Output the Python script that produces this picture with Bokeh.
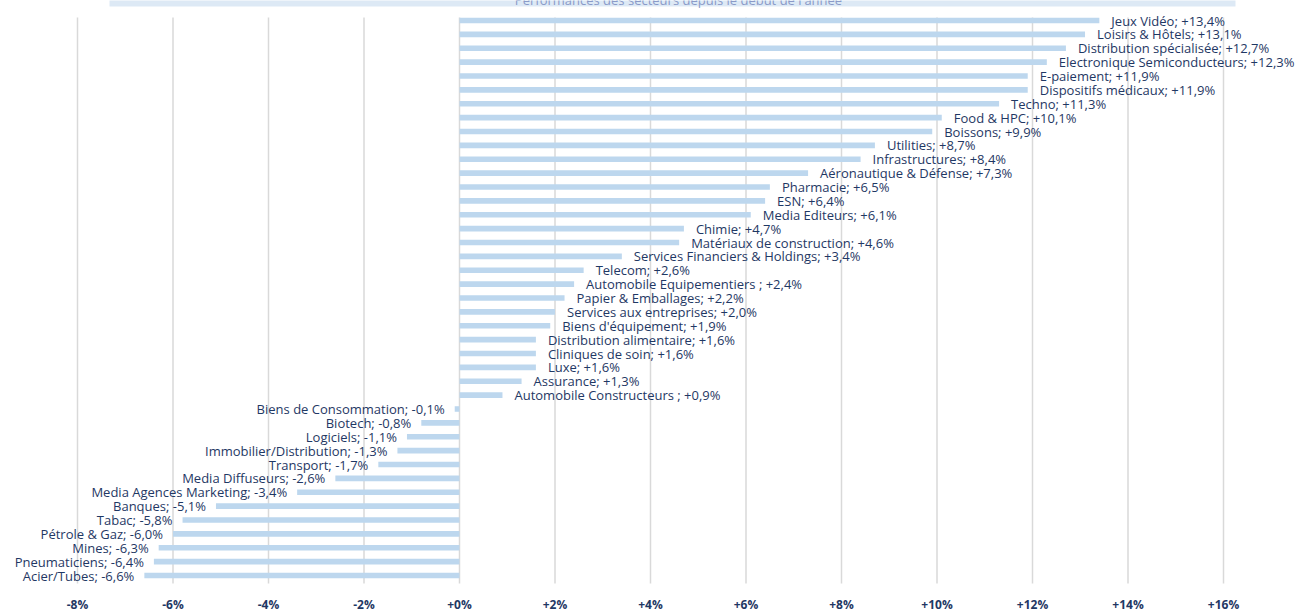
from bokeh.plotting import figure
from bokeh.models import FixedTicker, ColumnDataSource, Range1d
from bokeh.core.properties import value
from bokeh.embed import file_html
from bokeh.resources import INLINE

sectors = [
    "Jeux Vidéo", "Loisirs & Hôtels", "Distribution spécialisée", "Electronique Semiconducteurs",
    "E-paiement", "Dispositifs médicaux", "Techno", "Food & HPC", "Boissons", "Utilities",
    "Infrastructures", "Aéronautique & Défense", "Pharmacie", "ESN", "Media Editeurs", "Chimie",
    "Matériaux de construction", "Services Financiers & Holdings", "Telecom",
    "Automobile Equipementiers ", "Papier & Emballages", "Services aux entreprises",
    "Biens d'équipement", "Distribution alimentaire", "Cliniques de soin", "Luxe", "Assurance",
    "Automobile Constructeurs ", "Biens de Consommation", "Biotech", "Logiciels",
    "Immobilier/Distribution", "Transport", "Media Diffuseurs", "Media Agences Marketing",
    "Banques", "Tabac", "Pétrole & Gaz", "Mines", "Pneumaticiens", "Acier/Tubes",
]
perf = [
    13.4, 13.1, 12.7, 12.3, 11.9, 11.9, 11.3, 10.1, 9.9, 8.7, 8.4, 7.3, 6.5, 6.4, 6.1, 4.7,
    4.6, 3.4, 2.6, 2.4, 2.2, 2.0, 1.9, 1.6, 1.6, 1.6, 1.3, 0.9, -0.1, -0.8, -1.1, -1.3,
    -1.7, -2.6, -3.4, -5.1, -5.8, -6.0, -6.3, -6.4, -6.6,
]
ticks = [-8, -6, -4, -2, 0, 2, 4, 6, 8, 10, 12, 14, 16]
title_text = "Performances des secteurs depuis le début de l'année"

# layout constants (pixels)
W, FH = 1301, 590
X0_PX, PX_PER_PCT = 459.0, 47.75
ROW0_PX, ROW_PX = 20.0, 13.875

def px_x(px):
    return (px - X0_PX) / PX_PER_PCT

def px_y(px):
    return (px - ROW0_PX) / ROW_PX

NAVY = "#1F3864"
FONT = "Open Sans"
LABEL_SIZE = "13px"

rows = list(range(len(sectors)))
def fmt(v):
    s = f"{abs(v):.1f}".replace(".", ",")
    return ("+" if v >= 0 else "-") + s + "%"

labels = [f"{n}; {fmt(v)}" for n, v in zip(sectors, perf)]

src = ColumnDataSource(dict(y=rows, v=perf, lab=labels))
pos = ColumnDataSource(dict(y=[r for r, v in zip(rows, perf) if v >= 0],
                            v=[v for v in perf if v >= 0],
                            lab=[l for l, v in zip(labels, perf) if v >= 0]))
neg = ColumnDataSource(dict(y=[r for r, v in zip(rows, perf) if v < 0],
                            v=[v for v in perf if v < 0],
                            lab=[l for l, v in zip(labels, perf) if v < 0]))

p = figure(frame_width=W, frame_height=FH, output_backend="svg", toolbar_location=None,
           x_range=Range1d(px_x(0), px_x(W)), y_range=Range1d(px_y(FH), px_y(0)),
           y_axis_location=None, min_border=0)
p.outline_line_color = None
p.xgrid.grid_line_color = None
p.ygrid.grid_line_color = None

# title band (cropped at top, as in the reference)
p.quad(left=[px_x(109)], right=[px_x(1235)], top=[px_y(-5)], bottom=[px_y(6)],
       color="#DDE9F5", line_color=None)
p.text(x=[px_x(678)], y=[px_y(-1)], text=[title_text], text_align="center",
       text_baseline="alphabetic", text_font=value(FONT), text_font_size="13px",
       text_color="#8A9AC8")

# gridlines
p.segment(x0=ticks, x1=ticks, y0=[px_y(17)] * len(ticks), y1=[px_y(583)] * len(ticks),
          line_color="#D9D9D9", line_width=1.5)

p.hbar(y="y", left=0, right="v", height=0.4, source=src, color="#BDD7EE", line_color=None)

p.text(x="v", y="y", text="lab", source=pos, x_offset=12, text_align="left",
       text_baseline="middle", text_font=value(FONT), text_font_size=LABEL_SIZE, text_color=NAVY)
p.text(x="v", y="y", text="lab", source=neg, x_offset=-10, text_align="right",
       text_baseline="middle", text_font=value(FONT), text_font_size=LABEL_SIZE, text_color=NAVY)

xa = p.xaxis[0]
xa.ticker = FixedTicker(ticks=ticks)
xa.major_label_overrides = {t: (("+" if t >= 0 else "") + f"{t}%") for t in ticks}
xa.axis_line_color = None
xa.major_tick_line_color = None
xa.minor_tick_line_color = None
xa.major_tick_out = 0
xa.major_tick_in = 0
xa.major_label_standoff = 5
xa.major_label_text_font = FONT
xa.major_label_text_font_style = "bold"
xa.major_label_text_font_size = "12px"
xa.major_label_text_color = NAVY

open("out.html", "w").write(file_html(p, INLINE))
